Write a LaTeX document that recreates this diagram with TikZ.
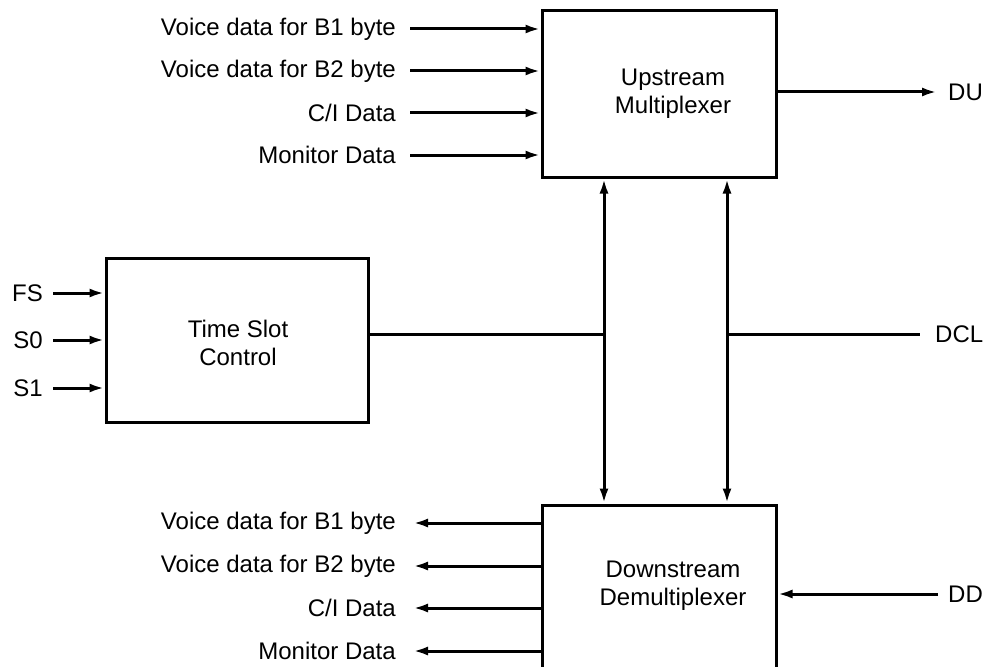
\documentclass[tikz,border=0pt]{standalone}
\usepackage{fontspec}
\setmainfont{Liberation Sans}
\usetikzlibrary{arrows.meta}
\begin{document}
\begin{tikzpicture}[x=1pt,y=-1pt,
  font=\fontsize{24}{28}\selectfont,
  blk/.style={draw,line width=3pt,inner sep=0pt},
  btxt/.style={inner sep=0pt,align=center},
  wire/.style={line width=3pt},
  arr/.style={wire,-{Latex[length=15pt,width=9pt]}},
  darr/.style={wire,{Latex[length=15pt,width=9pt]}-{Latex[length=15pt,width=9pt]}},
  lab/.style={inner sep=0pt}]
\useasboundingbox (0,0) rectangle (984,666);
\clip (0,0) rectangle (984,666);
% blocks
\node[blk,minimum width=234pt,minimum height=166pt] (up) at (659,94) {};
\node[btxt] (uptxt) at (673,94) {Upstream\\Multiplexer};
\node[blk,minimum width=262pt,minimum height=164pt] (ts) at (237,340) {};
\node[btxt] (tstxt) at (238,343) {Time Slot\\Control};
\node[blk,minimum width=234pt,minimum height=163pt] (down) at (659,586.5) {};
\node[btxt] (downtxt) at (673,586) {Downstream\\Demultiplexer};
% upstream inputs
\node[lab,anchor=east] (ui1) at (396,29) {Voice data for B1 byte};
\node[lab,anchor=east] (ui2) at (396,71) {Voice data for B2 byte};
\node[lab,anchor=east] (ui3) at (396,113) {C/I Data};
\node[lab,anchor=east] (ui4) at (396,155) {Monitor Data};
\foreach \n in {ui1,ui2,ui3,ui4}
  \draw[arr] ([xshift=14pt]\n.east) -- (up.west |- \n.east);
% DU
\node[lab,anchor=west] (du) at (948,92) {DU};
\draw[arr] (up.east |- du.west) -- ([xshift=-11pt]du.west);
% time slot inputs
\node[lab,anchor=east] (fs) at (43,293) {FS};
\node[lab,anchor=east] (s0) at (43,340) {S0};
\node[lab,anchor=east] (s1) at (43,388) {S1};
\foreach \n in {fs,s0,s1}
  \draw[arr] ([xshift=10pt]\n.east) -- (ts.west |- \n.east);
% vertical buses
\coordinate (v1) at (604,0);
\coordinate (v2) at (727,0);
\coordinate (h) at (0,334);
\draw[darr] (v1 |- up.south) -- (v1 |- down.north);
\draw[darr] (v2 |- up.south) -- (v2 |- down.north);
\draw[wire] (ts.east |- h) -- (v1 |- h);
\node[lab,anchor=west] (dcl) at (935,334) {DCL};
\draw[wire] (v2 |- h) -- ([xshift=-15pt]dcl.west);
% downstream outputs
\node[lab,anchor=east] (do1) at (396,523) {Voice data for B1 byte};
\node[lab,anchor=east] (do2) at (396,566) {Voice data for B2 byte};
\node[lab,anchor=east] (do3) at (396,608) {C/I Data};
\node[lab,anchor=east] (do4) at (396,651) {Monitor Data};
\foreach \n in {do1,do2,do3,do4}
  \draw[arr] (down.west |- \n.east) -- ([xshift=17pt]\n.east);
% DD
\node[lab,anchor=west] (dd) at (948,594) {DD};
\draw[arr] ([xshift=-10pt]dd.west) -- (down.east |- dd.west);
\end{tikzpicture}
\end{document}
